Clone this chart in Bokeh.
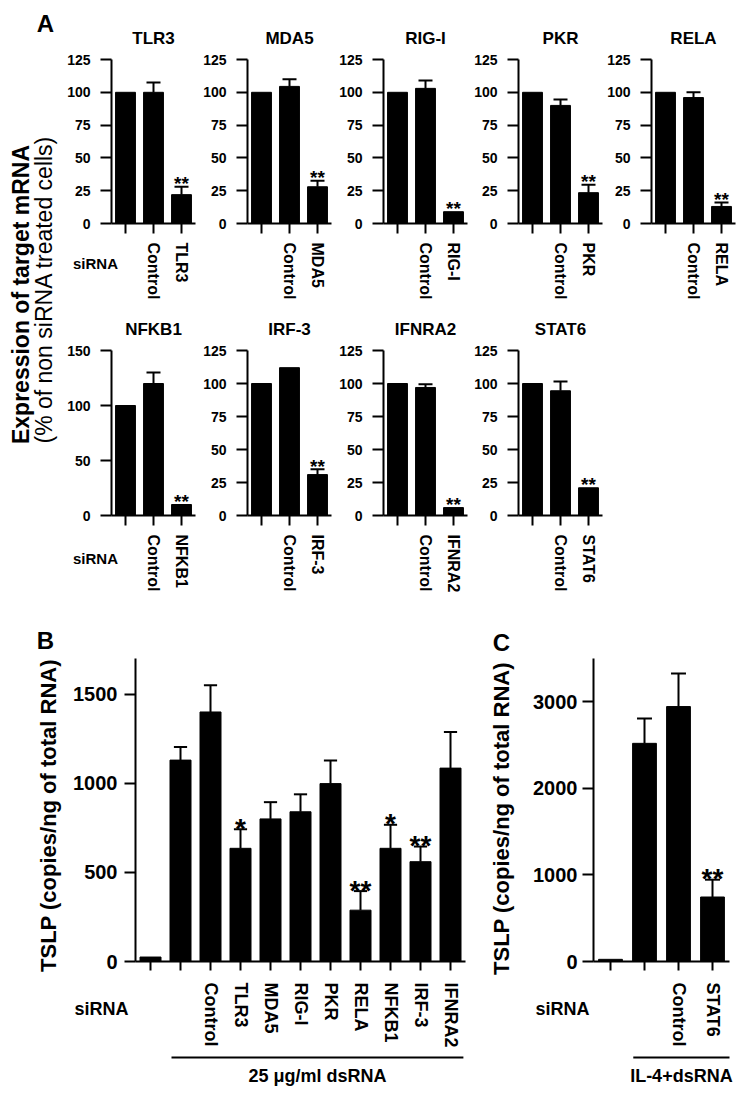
import math
from bokeh.plotting import figure
from bokeh.layouts import row, column
from bokeh.models import Range1d, FixedTicker
from bokeh.core.properties import value
from bokeh.embed import file_html
from bokeh.resources import INLINE

FONT = "Liberation Sans"

# ---------------- data ----------------
# Panel A: expression of target mRNA (% of non siRNA treated cells)
genes_a = ["TLR3", "MDA5", "RIG-I", "PKR", "RELA", "NFKB1", "IRF-3", "IFNRA2", "STAT6"]
no_sirna = [100, 100, 100, 100, 100, 100, 100, 100, 100]
control_sirna = [100, 104.5, 103, 90, 96, 120, 112, 97, 94.5]
control_err = [7.5, 5.5, 6, 4.5, 4, 10, 0, 2.5, 7]
target_sirna = [22, 28, 9, 23.5, 13, 10, 31, 6, 21]
target_err = [6, 4.5, 0, 6, 3, 0, 4, 0, 0]
target_sig = ["**", "**", "**", "**", "**", "**", "**", "**", "**"]
ymax_a = [125, 125, 125, 125, 125, 150, 125, 125, 125]
ystep_a = [25, 25, 25, 25, 25, 50, 25, 25, 25]

# Panel B: TSLP after 25 ug/ml dsRNA
b_labels = ["", "", "Control", "TLR3", "MDA5", "RIG-I", "PKR", "RELA", "NFKB1", "IRF-3", "IFNRA2"]
b_values = [25, 1130, 1400, 635, 800, 840, 998, 288, 635, 560, 1085]
b_err = [0, 73, 150, 107, 94, 98, 130, 107, 132, 85, 203]
b_sig = ["", "", "", "*", "", "", "", "**", "*", "**", ""]
b_ticks = [0, 500, 1000, 1500]
b_ymax = 1700

# Panel C: TSLP after IL-4 + dsRNA
c_labels = ["", "", "Control", "STAT6"]
c_values = [25, 2520, 2945, 745]
c_err = [0, 287, 382, 200]
c_sig = ["", "", "", "**"]
c_ticks = [0, 1000, 2000, 3000]
c_ymax = 3500


# ---------------- helpers ----------------
def make_fig(left, top, W, H, xa, px_a, ppx, py0, ppy, axes=True):
    """Figure whose frame fills the canvas; data x=xa sits at page px_a, data y=0 at page py0."""
    xr = Range1d(xa - (px_a - left) / ppx, xa + (left + W - px_a) / ppx)
    yr = Range1d(-(top + H - py0) / ppy, (py0 - top) / ppy)
    kw = dict(width=W, height=H, x_range=xr, y_range=yr, output_backend="svg",
              toolbar_location=None, min_border=0, min_border_left=0,
              min_border_right=0, min_border_top=0, min_border_bottom=0,
              background_fill_color="white", border_fill_color="white")
    if not axes:
        kw["x_axis_location"] = None
        kw["y_axis_location"] = None
    p = figure(**kw)
    p.outline_line_color = None
    p.grid.visible = False

    def conv(px, py):
        return xa + (px - px_a) / ppx, (py0 - py) / ppy
    return p, conv


def txt(p, x, y, s, size, style="bold", angle=0.0, align="center", baseline="middle"):
    p.text(x=[x], y=[y], text=[s], angle=angle, text_font=value(FONT),
           text_font_size=size, text_font_style=style, text_align=align,
           text_baseline=baseline, text_color="black")


def style_axes(p, xt, xlabels, xbounds, xfix, yt, ybounds, yfix,
               xl_size, yl_size, x_out, x_stand, y_out, y_stand):
    for ax in (p.xaxis[0], p.yaxis[0]):
        ax.axis_line_width = 2
        ax.axis_line_color = "black"
        ax.major_tick_line_width = 2
        ax.major_tick_line_color = "black"
        ax.major_tick_in = 0
        ax.minor_tick_line_color = None
        ax.major_label_text_font = FONT
        ax.major_label_text_font_style = "bold"
        ax.major_label_text_color = "black"
    xa, ya = p.xaxis[0], p.yaxis[0]
    xa.fixed_location = xfix
    xa.bounds = xbounds
    xa.ticker = FixedTicker(ticks=xt)
    xa.major_label_overrides = {t: l for t, l in zip(xt, xlabels)}
    xa.major_label_orientation = "vertical"
    xa.major_label_text_font_size = xl_size
    xa.major_tick_out = x_out
    xa.major_label_standoff = x_stand
    ya.fixed_location = yfix
    ya.bounds = ybounds
    ya.ticker = FixedTicker(ticks=yt)
    ya.major_label_text_font_size = yl_size
    ya.major_tick_out = y_out
    ya.major_label_standoff = y_stand


def draw_bars(p, xs, vals, errs, sigs, bar_w, cap_half, star_size, star_gap_units):
    p.vbar(x=xs, top=vals, width=bar_w, fill_color="black", line_color="black")
    ex = [x for x, e in zip(xs, errs) if e > 0]
    ev = [v for v, e in zip(vals, errs) if e > 0]
    et = [v + e for v, e in zip(vals, errs) if e > 0]
    if ex:
        p.segment(x0=ex, y0=ev, x1=ex, y1=et, line_width=2, line_color="black")
        p.segment(x0=[x - cap_half for x in ex], y0=et,
                  x1=[x + cap_half for x in ex], y1=et,
                  line_width=2, line_color="black")
    sx = [x for x, s in zip(xs, sigs) if s]
    sy = [v + e + star_gap_units for v, e, s in zip(vals, errs, sigs) if s]
    st = [s for s in sigs if s]
    if sx:
        p.text(x=sx, y=sy, text=st, text_font=value(FONT),
               text_font_size=star_size, text_font_style="bold",
               text_align="center", text_baseline="alphabetic",
               text_color="black")


# ---------------- panel A ----------------
axes_x = [111, 247, 383, 518, 651]
col_left = [62, 199, 335, 470, 603]
col_right = [199, 335, 470, 603, 749]
row_top = [0, 305]
row_h = [305, 295]
row_zero = [223, 515]
row_topval = [59, 350]
title_y = [37.5, 329]
sirna_y = [263, 558]
PPX_A = 28.0

rows_a = [[], []]
for i, g in enumerate(genes_a):
    r = 0 if i < 5 else 1
    c = i if i < 5 else i - 5
    ymax = ymax_a[i]
    ppy = (row_zero[r] - row_topval[r]) / ymax
    p, conv = make_fig(col_left[c], row_top[r], col_right[c] - col_left[c], row_h[r],
                       0.5, axes_x[c], PPX_A, row_zero[r], ppy)
    xs = [1, 2, 3]
    style_axes(p, xs, ["", "Control", g], (0.5, 3.5), 0,
               list(range(0, ymax + 1, ystep_a[i])), (0, ymax), 0.5,
               "16px", "14px", 10, 9, 11, 10)
    draw_bars(p, xs, [no_sirna[i], control_sirna[i], target_sirna[i]],
              [0, control_err[i], target_err[i]], ["", "", target_sig[i]],
              0.71, 0.25, "19px", 3 / ppy)
    tx, ty = conv(0, title_y[r])
    txt(p, 2, ty, g, "17px")
    if c == 0:
        sx, sy = conv(95, sirna_y[r])
        txt(p, sx, sy, "siRNA", "15px")
    rows_a[r].append(p)

# left strip with panel letter and shared y label
left, lconv = make_fig(0, 0, 62, 600, 0, 0, 1.0, 600, 1.0, axes=False)
x, y = lconv(45, 23)
txt(left, x, y, "A", "24px")
x, y = lconv(20, 294)
txt(left, x, y, "Expression of target mRNA", "23px", angle=math.pi / 2)
x, y = lconv(43, 289)
txt(left, x, y, "(% of non siRNA treated cells)", "23px", style="normal", angle=math.pi / 2)

panel_a = row(left, column(row(*rows_a[0], spacing=0), row(*rows_a[1], spacing=0), spacing=0),
              spacing=0)


# ---------------- panels B and C ----------------
def tslp_panel(left_px, W, axis_px, ppx, labels, vals, errs, sigs, ticks, ymax,
               letter, letter_pos, ylab_pos, sirna_pos, group_text, gpad0, gpad1, ystand):
    top, H, zero_px, top_px = 600, 494, 961, 658
    ppy = (zero_px - top_px) / ymax
    n = len(labels)
    p, conv = make_fig(left_px, top, W, H, -0.5, axis_px, ppx, zero_px, ppy)
    xs = list(range(n))
    style_axes(p, xs, labels, (-0.5, n - 0.5), 0, ticks, (0, ymax), -0.5,
               "18px", "20px", 9, 12, 11, ystand)
    draw_bars(p, xs, vals, errs, sigs, 0.7, 0.22, "28px", 1 / ppy)
    x, y = conv(*letter_pos)
    txt(p, x, y, letter, "24px")
    x, y = conv(*ylab_pos)
    txt(p, x, y, "TSLP (copies/ng of total RNA)", "22px", angle=math.pi / 2)
    x, y = conv(*sirna_pos)
    txt(p, x, y, "siRNA", "18px")
    # treatment bracket under the treated groups (categories 1 .. n-1)
    x0 = 1 - gpad0
    x1 = (n - 1) + gpad1
    _, yl = conv(0, 1057)
    p.line(x=[x0, x1], y=[yl, yl], line_width=2, line_color="black")
    _, yt = conv(0, 1075)
    txt(p, (x0 + x1) / 2, yt, group_text, "18px")
    return p

panel_b = tslp_panel(0, 480, 135, 30.0, b_labels, b_values, b_err, b_sig, b_ticks, b_ymax,
                     "B", (45, 640), (48, 815), (101, 1008), "25 μg/ml dsRNA", 0.3, 0.43, 7)
panel_c = tslp_panel(480, 269, 593, 34.0, c_labels, c_values, c_err, c_sig, c_ticks, c_ymax,
                     "C", (501, 642), (501, 818), (562, 1008), "IL-4+dsRNA", 0.33, 0.5, 5)

layout = column(panel_a, row(panel_b, panel_c, spacing=0), spacing=0)

open("out.html", "w").write(file_html(layout, INLINE, title="TSLP siRNA"))
